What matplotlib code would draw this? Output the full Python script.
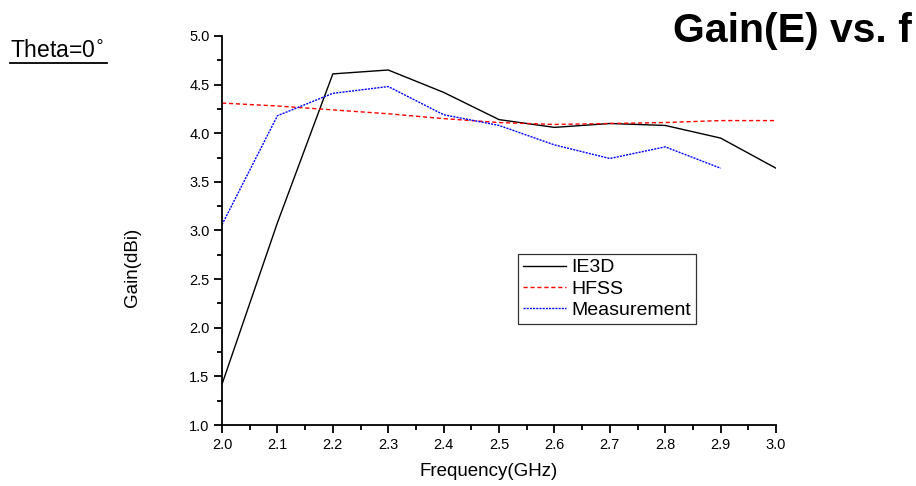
import matplotlib
matplotlib.use("Agg")
import matplotlib.pyplot as plt
from matplotlib.ticker import MultipleLocator
from matplotlib.lines import Line2D

plt.rcParams['font.family'] = ['Liberation Sans', 'DejaVu Sans']

freq = [2.0, 2.1, 2.2, 2.3, 2.4, 2.5, 2.6, 2.7, 2.8, 2.9, 3.0]
ie3d = [1.42, 3.08, 4.61, 4.65, 4.42, 4.14, 4.06, 4.10, 4.08, 3.95, 3.64]
hfss = [4.31, 4.28, 4.24, 4.20, 4.15, 4.11, 4.09, 4.10, 4.11, 4.13, 4.13]
meas_freq = [2.0, 2.1, 2.2, 2.3, 2.4, 2.5, 2.6, 2.7, 2.8, 2.9]
meas = [3.06, 4.18, 4.41, 4.48, 4.19, 4.08, 3.88, 3.74, 3.86, 3.64]

fig = plt.figure(figsize=(9.16, 4.86), dpi=100)
ax = fig.add_axes([0.2424, 0.1255, 0.6048, 0.8005])

ax.plot(freq, ie3d, color='black', lw=1.0, label='IE3D')
ax.plot(freq, hfss, color='red', lw=1.0, ls=(0, (3, 2)), label='HFSS')
ax.plot(meas_freq, meas, color='blue', lw=1.0, ls=(0, (1.5, 0.8)), label='Measurement')

ax.set_xlim(2.0, 3.0)
ax.set_ylim(1.0, 5.0)
ax.xaxis.set_major_locator(MultipleLocator(0.1))
ax.xaxis.set_minor_locator(MultipleLocator(0.05))
ax.yaxis.set_major_locator(MultipleLocator(0.5))
ax.yaxis.set_minor_locator(MultipleLocator(0.25))
ax.xaxis.set_major_formatter(plt.FormatStrFormatter('%.1f'))
ax.yaxis.set_major_formatter(plt.FormatStrFormatter('%.1f'))
ax.tick_params(which='major', direction='out', length=6, width=1.3, labelsize=10.5, pad=3)
ax.tick_params(which='minor', direction='out', length=3.5, width=1.3)
for s in ('top', 'right'):
    ax.spines[s].set_visible(False)
for s in ('left', 'bottom'):
    ax.spines[s].set_linewidth(1.3)

ax.set_xlabel('Frequency(GHz)', fontsize=13.5)
ax.xaxis.set_label_coords(0.482, -0.097)
ax.set_ylabel('Gain(dBi)', fontsize=13.5)
ax.yaxis.set_label_coords(-0.146, 0.406)

leg = ax.legend(loc='upper left', bbox_to_anchor=(0.5342, 0.4395), fontsize=14,
                frameon=True, fancybox=False, edgecolor='black',
                handlelength=2.2, handletextpad=0.3, borderpad=0.25,
                labelspacing=0.18, borderaxespad=0)
leg.get_frame().set_linewidth(0.9)

fig.text(0.9956, 0.9136, 'Gain(E) vs. f', ha='right', va='baseline',
         fontsize=29.5, fontweight='bold')
fig.text(0.011, 0.8827, 'Theta=0$^{\\circ}$', ha='left', va='baseline', fontsize=16.5)
fig.add_artist(Line2D([0.011, 0.117], [0.871, 0.871], transform=fig.transFigure,
                      color='black', lw=1.3))

fig.savefig('out.png', dpi=100)
